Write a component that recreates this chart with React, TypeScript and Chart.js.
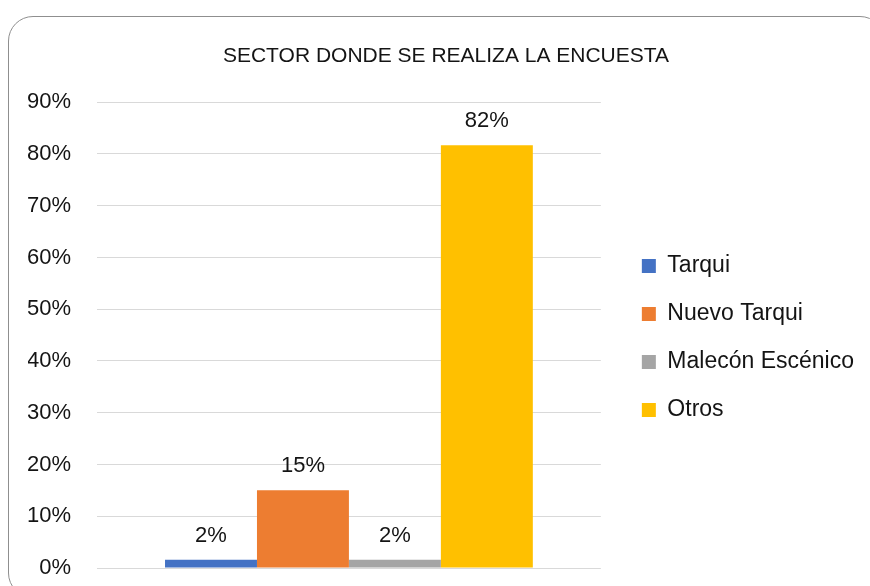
import { useEffect, useRef } from 'react';
import { Chart, registerables } from 'chart.js';

Chart.register(...registerables);

const TITLE = 'SECTOR DONDE SE REALIZA LA ENCUESTA';
const CATEGORIES = [''];
const SERIES_NAMES = ['Tarqui', 'Nuevo Tarqui', 'Malecón Escénico', 'Otros'];
const SERIES_VALUES = [1.6, 15.0, 1.6, 81.7];
const SERIES_COLORS = ['#4472C4', '#ED7D31', '#A5A5A5', '#FFC000'];
const Y_MIN = 0;
const Y_MAX = 90;
const Y_STEP = 10;

const FONT = "'Liberation Sans', Arial, sans-serif";
const TEXT = '#141414';
const GRID = '#d9d9d9';

const barLabelPlugin = {
  id: 'barLabels',
  afterDatasetsDraw(chart: any) {
    const ctx = chart.ctx;
    ctx.save();
    ctx.font = `22px ${FONT}`;
    ctx.fillStyle = TEXT;
    ctx.textAlign = 'center';
    ctx.textBaseline = 'alphabetic';
    chart.data.datasets.forEach((ds: any, i: number) => {
      const meta = chart.getDatasetMeta(i);
      meta.data.forEach((bar: any, j: number) => {
        const v = ds.data[j];
        ctx.fillText(Math.round(v) + '%', bar.x, bar.y - 18);
      });
    });
    ctx.restore();
  },
};

export default function App() {
  const canvasRef = useRef<HTMLCanvasElement | null>(null);

  useEffect(() => {
    const canvas = canvasRef.current;
    if (!canvas) return;
    const chart = new Chart(canvas, {
      type: 'bar',
      data: {
        labels: CATEGORIES,
        datasets: SERIES_NAMES.map((name, i) => ({
          label: name,
          data: [SERIES_VALUES[i]],
          backgroundColor: SERIES_COLORS[i],
          borderWidth: 0,
          barPercentage: 1,
          categoryPercentage: 0.73,
        })),
      },
      options: {
        responsive: false,
        maintainAspectRatio: false,
        animation: false,
        devicePixelRatio: 1,
        layout: { padding: { left: 28, right: 6, top: 0, bottom: 18 } },
        plugins: {
          title: {
            display: true,
            text: TITLE,
            color: TEXT,
            font: { family: FONT, size: 21, weight: 'normal' },
            padding: { top: 44, bottom: 33 },
          },
          legend: {
            display: true,
            position: 'right',
            align: 'center',
            fullSize: false,
            maxWidth: 400,
            title: {
              display: true,
              text: ' ',
              font: { family: FONT, size: 6, lineHeight: 1 },
              padding: 0,
            },
            labels: {
              boxWidth: 14,
              boxHeight: 14,
              padding: 25,
              color: TEXT,
              font: { family: FONT, size: 23 },
            },
          },
          tooltip: { enabled: false },
        },
        scales: {
          x: { display: false },
          y: {
            min: Y_MIN,
            max: Y_MAX,
            ticks: {
              stepSize: Y_STEP,
              padding: 26,
              color: TEXT,
              font: { family: FONT, size: 22 },
              callback: (v: any) => v + '%',
            },
            grid: { color: GRID, lineWidth: 1, drawTicks: false },
            border: { display: false },
            afterFit: (s: any) => {
              s.width = 69;
              s.paddingTop = 0;
              s.paddingBottom = 0;
            },
          },
          y2: {
            position: 'right',
            display: true,
            ticks: { display: false },
            grid: { display: false, drawTicks: false },
            border: { display: false },
            afterFit: (s: any) => {
              s.width = 16;
              s.paddingTop = 0;
              s.paddingBottom = 0;
            },
          },
        },
      } as any,
      plugins: [barLabelPlugin],
    });
    return () => chart.destroy();
  }, []);

  return (
    <div
      style={{
        position: 'fixed',
        left: 0,
        top: 0,
        width: 870,
        height: 586,
        overflow: 'hidden',
        background: '#ffffff',
      }}
    >
      <div
        style={{
          position: 'absolute',
          left: 8,
          top: 16,
          width: 877,
          height: 582,
          boxSizing: 'border-box',
          border: '1px solid #8f8f8f',
          borderRadius: 25,
        }}
      />
      <canvas
        ref={canvasRef}
        width={870}
        height={586}
        style={{ position: 'absolute', left: 0, top: 0, width: 870, height: 586, display: 'block' }}
      />
    </div>
  );
}
